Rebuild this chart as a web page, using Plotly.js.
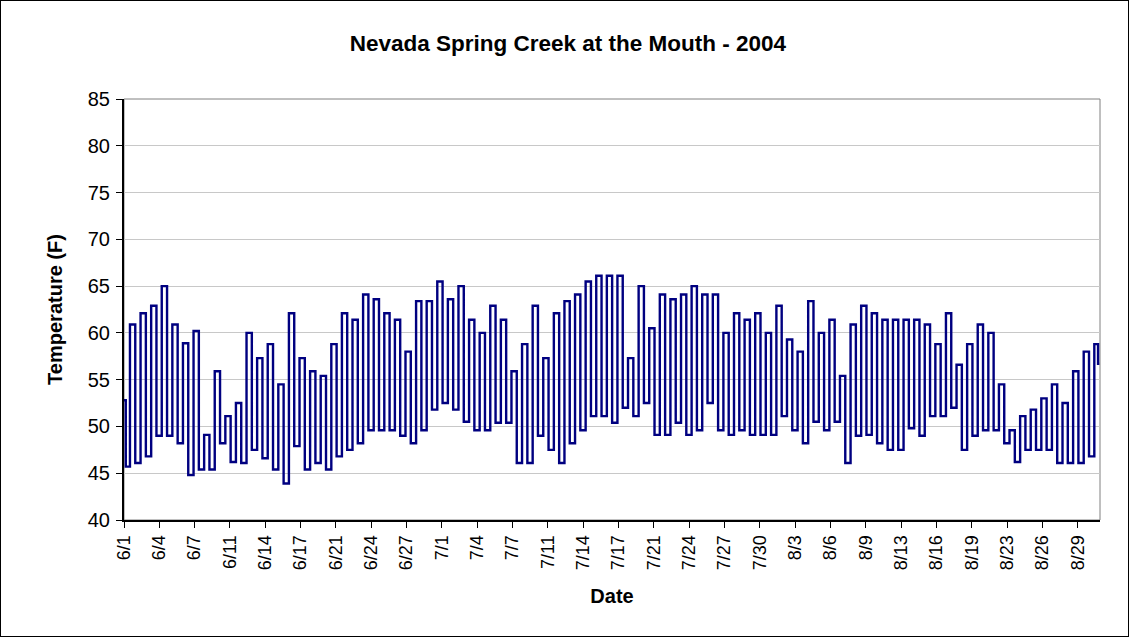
<!DOCTYPE html>
<html>
<head>
<meta charset="utf-8">
<script src="https://cdn.plot.ly/plotly-3.0.1.min.js"></script>
<style>
  html, body { margin: 0; padding: 0; background: #ffffff; }
  #wrap { position: relative; width: 1129px; height: 637px; }
  #chart { position: absolute; left: 0; top: 0; width: 1129px; height: 637px; }
  #frame { position: absolute; left: 0; top: 0; width: 1129px; height: 637px; box-sizing: border-box; border: 1px solid #000; pointer-events: none; }
</style>
</head>
<body>
<div id="wrap"><div id="chart"></div><div id="frame"></div></div>
<script>
// Tick labels on the category-style date axis (one label every 80 hourly readings)
const tickLabels = ["6/1","6/4","6/7","6/11","6/14","6/17","6/21","6/24","6/27","7/1","7/4","7/7",
  "7/11","7/14","7/17","7/21","7/24","7/27","7/30","8/3","8/6","8/9","8/13","8/16","8/19","8/23","8/26","8/29"];

// Daily minimum water temperature (F), June 1 .. Aug 31, 2004
const dailyMin = [45.7,46.1,46.8,49.0,49.0,48.2,44.8,45.4,45.4,48.2,
  46.2,46.1,47.5,46.6,45.4,43.9,47.9,45.4,46.1,45.4,
  46.8,47.5,48.2,49.6,49.6,49.6,49.0,48.2,49.6,51.8,
  52.5,51.8,50.5,49.6,49.6,50.4,50.4,46.1,46.1,49.0,
  47.5,46.1,48.2,49.6,51.1,51.1,50.4,52.0,51.1,52.5,
  49.1,49.1,50.4,49.1,49.6,52.5,49.6,49.1,49.6,49.1,
  49.1,49.1,51.1,49.6,48.2,50.5,49.6,50.5,46.1,49.0,
  49.1,48.2,47.5,47.5,49.8,49.0,51.1,51.1,52.0,47.5,
  49.0,49.6,49.6,48.2,46.2,47.5,47.5,47.5,46.1,46.1,
  46.1,46.8];

// Daily maximum water temperature (F)
const dailyMax = [60.9,62.1,62.9,65.0,60.9,58.9,60.2,49.1,55.9,51.1,
  52.5,60.0,57.3,58.8,54.5,62.1,57.3,55.9,55.4,58.8,
  62.1,61.4,64.1,63.6,62.1,61.4,58.0,63.4,63.4,65.5,
  63.6,65.0,61.4,60.0,62.9,61.4,55.9,58.8,62.9,57.3,
  62.1,63.4,64.1,65.5,66.1,66.1,66.1,57.3,65.0,60.5,
  64.1,63.6,64.1,65.0,64.1,64.1,60.0,62.1,61.4,62.1,
  60.0,62.9,59.3,58.0,63.4,60.0,61.4,55.4,60.9,62.9,
  62.1,61.4,61.4,61.4,61.4,60.9,58.8,62.1,56.6,58.8,
  60.9,60.0,54.5,49.6,51.1,51.8,53.0,54.5,52.5,55.9,
  58.0,58.8];

const firstReading = 52.8;   // 6/1 00:00
const lastReading = 56.7;    // 8/31 23:00
const minHour = 8;           // typical hour of daily minimum
const maxHour = 19;          // typical hour of daily maximum

// Build the time series (x in days since 6/1 00:00)
const xs = [0], ys = [firstReading];
for (let d = 0; d < dailyMin.length; d++) {
  xs.push(d + minHour / 24); ys.push(dailyMin[d]);
  xs.push(d + maxHour / 24); ys.push(dailyMax[d]);
}
xs.push(dailyMin.length + 1 / 24); ys.push(lastReading);

const pointsPerLabel = 80;  // hourly readings between axis labels
const tickVals = tickLabels.map((_, k) => k * pointsPerLabel / 24);

const FONT = "Liberation Sans, Arial, Helvetica, sans-serif";

const trace = {
  x: xs, y: ys, type: "scatter", mode: "lines",
  line: { color: "#000080", width: 2.4, shape: "hvh" },
  hoverinfo: "skip"
};

const layout = {
  width: 1129, height: 637,
  paper_bgcolor: "#ffffff", plot_bgcolor: "#ffffff",
  margin: { l: 124, r: 29, t: 99, b: 117, pad: 0 },
  showlegend: false,
  font: { family: FONT, color: "#000000" },
  title: {
    text: "<b>Nevada Spring Creek at the Mouth - 2004</b>",
    font: { family: FONT, size: 22.5, color: "#000000" },
    x: 0.503, xref: "container", xanchor: "center",
    y: 0.932, yref: "container", yanchor: "middle"
  },
  xaxis: {
    type: "linear", range: [0, 92.1], autorange: false,
    tickmode: "array", tickvals: tickVals, ticktext: tickLabels,
    tickangle: -90, tickfont: { family: FONT, size: 18, color: "#000000" },
    ticks: "outside", ticklen: 6, tickcolor: "#000000", tickwidth: 1,
    showgrid: false, zeroline: false,
    showline: true, linecolor: "#000000", linewidth: 2,
    title: { text: "<b>Date</b>", font: { family: FONT, size: 20, color: "#000000" }, standoff: 20 },
    automargin: false
  },
  yaxis: {
    range: [40, 85], autorange: false, dtick: 5, tick0: 40,
    tickfont: { family: FONT, size: 20, color: "#000000" },
    ticks: "outside", ticklen: 6, tickcolor: "#000000", tickwidth: 1,
    ticklabelstandoff: 2,
    showgrid: true, gridcolor: "#c8c8c8", gridwidth: 1,
    zeroline: false,
    showline: true, linecolor: "#000000", linewidth: 2,
    title: { text: "<b>Temperature (F)</b>", font: { family: FONT, size: 20, color: "#000000" }, standoff: 20 },
    automargin: false
  },
  shapes: [{
    type: "rect", xref: "paper", yref: "paper", x0: 0, x1: 1, y0: 0, y1: 1,
    line: { color: "#808080", width: 1 }, layer: "below"
  }]
};

Plotly.newPlot("chart", [trace], layout, { staticPlot: true, displayModeBar: false });
</script>
</body>
</html>
